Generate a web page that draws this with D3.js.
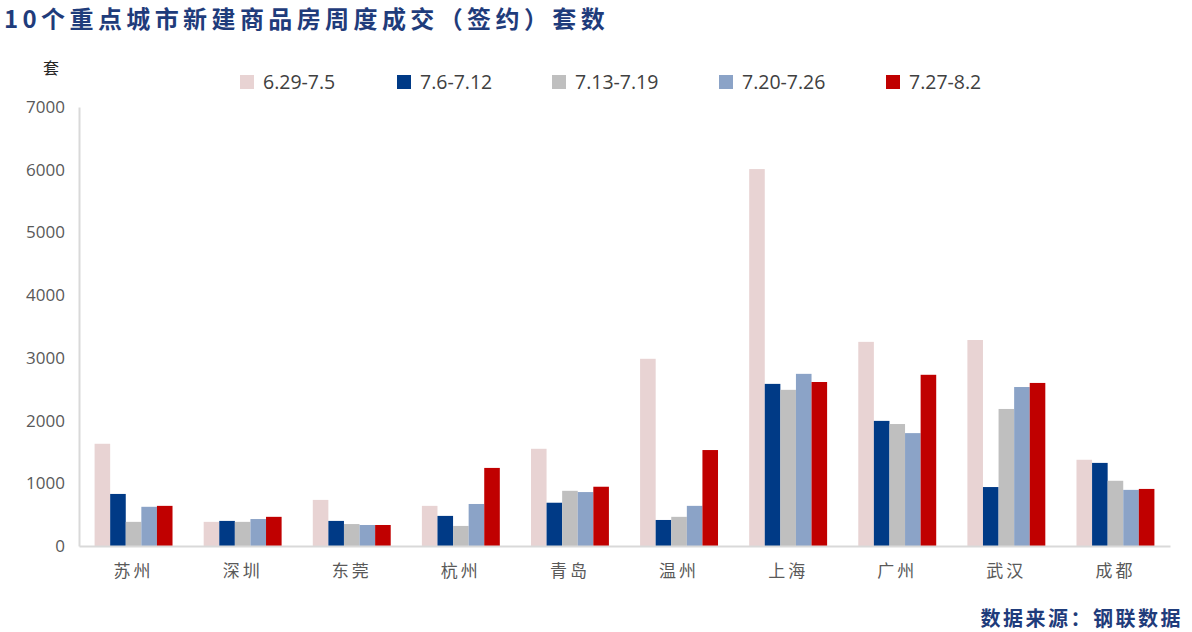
<!DOCTYPE html>
<html>
<head>
<meta charset="utf-8">
<script src="https://cdn.jsdelivr.net/npm/d3@7"></script>
<style>
  body { margin: 0; background: #fff; }
  svg { display: block; }
</style>
</head>
<body>
<svg id="chart"></svg>
<script>
// Weekly signed new-home sales (units) in 10 key cities
const cities = ['苏州', '深圳', '东莞', '杭州', '青岛', '温州', '上海', '广州', '武汉', '成都'];
const weeks = ['6.29-7.5', '7.6-7.12', '7.13-7.19', '7.20-7.26', '7.27-8.2'];
const week1 = [1630, 385, 735, 640, 1550, 2985, 6010, 3255, 3285, 1375];
const week2 = [830, 400, 400, 480, 690, 415, 2585, 1995, 940, 1325];
const week3 = [385, 385, 350, 320, 880, 465, 2490, 1945, 2185, 1040];
const week4 = [625, 430, 335, 670, 860, 640, 2745, 1800, 2535, 895];
const week5 = [640, 465, 335, 1245, 945, 1530, 2615, 2730, 2600, 910];
const yTicks = [0, 1000, 2000, 3000, 4000, 5000, 6000, 7000];

const colors = ['#E8D3D3', '#003A86', '#BFBFBF', '#8BA3C7', '#C00000'];
const seriesValues = [week1, week2, week3, week4, week5];

const width = 1192, height = 632;
const margin = { top: 107, right: 22, bottom: 86, left: 79 };

const svg = d3.select('#chart')
    .attr('width', width)
    .attr('height', height);

// Title
svg.append('text')
    .attr('x', 4)
    .attr('y', 28)
    .attr('fill', '#1F3C7B')
    .attr('font-family', '"Noto Sans CJK SC", sans-serif')
    .attr('font-weight', 700)
    .attr('font-size', '24px')
    .attr('letter-spacing', '4.4px')
    .text('10个重点城市新建商品房周度成交（签约）套数');

// Scales
const x0 = d3.scaleBand()
    .domain(cities)
    .range([margin.left, width - margin.right]);

const x1 = d3.scaleBand()
    .domain(weeks)
    .range([0, x0.bandwidth()])
    .paddingOuter(1);

const y = d3.scaleLinear()
    .domain([0, 7000])
    .range([height - margin.bottom, margin.top]);

// Y axis (labels only, light axis line)
const yAxis = svg.append('g')
    .attr('transform', `translate(${margin.left},0)`)
    .call(d3.axisLeft(y).tickValues(yTicks).tickSize(0).tickPadding(14).tickFormat(d3.format('d')));
yAxis.select('.domain').attr('stroke', '#D9D9D9').attr('stroke-width', 2);
yAxis.selectAll('text')
    .attr('fill', '#595959')
    .attr('font-family', '"Open Sans", sans-serif')
    .attr('font-size', '17px');

// Unit label
svg.append('text')
    .attr('x', 51)
    .attr('y', 74)
    .attr('text-anchor', 'middle')
    .attr('fill', '#262626')
    .attr('font-family', '"Noto Sans CJK SC", sans-serif')
    .attr('font-size', '16px')
    .text('套');

// Bars
const barGroups = svg.selectAll('.series')
    .data(weeks)
    .join('g')
    .attr('class', 'series')
    .attr('fill', (d, i) => colors[i]);

barGroups.selectAll('rect')
    .data((w, i) => cities.map((c, j) => ({ city: c, week: w, value: seriesValues[i][j] })))
    .join('rect')
    .attr('x', d => x0(d.city) + x1(d.week))
    .attr('y', d => y(d.value))
    .attr('width', x1.bandwidth())
    .attr('height', d => y(0) - y(d.value));

// X axis
const xAxis = svg.append('g')
    .attr('transform', `translate(0,${y(0)})`)
    .call(d3.axisBottom(x0).tickSize(0).tickPadding(19));
xAxis.select('.domain').attr('stroke', '#D9D9D9').attr('stroke-width', 2);
xAxis.selectAll('text')
    .attr('fill', '#595959')
    .attr('font-family', '"Noto Sans CJK SC", sans-serif')
    .attr('font-size', '17px')
    .attr('letter-spacing', '3px');

// Legend
const legendX = [240, 397, 552, 719, 886];
const legend = svg.append('g').attr('class', 'legend');
const legendItems = legend.selectAll('.legend-item')
    .data(weeks)
    .join('g')
    .attr('class', 'legend-item')
    .attr('transform', (d, i) => `translate(${legendX[i]}, 75)`);

legendItems.append('rect')
    .attr('width', 14)
    .attr('height', 14)
    .attr('fill', (d, i) => colors[i]);

legendItems.append('text')
    .attr('x', 23)
    .attr('y', 7)
    .attr('dy', '0.35em')
    .attr('fill', '#404040')
    .attr('font-family', '"Open Sans", sans-serif')
    .attr('font-size', '19.5px')
    .text(d => d);

// Source
svg.append('text')
    .attr('x', 1183)
    .attr('y', 626)
    .attr('text-anchor', 'end')
    .attr('fill', '#1F3C7B')
    .attr('font-family', '"Noto Sans CJK SC", sans-serif')
    .attr('font-weight', 700)
    .attr('font-size', '20px')
    .attr('letter-spacing', '2.5px')
    .text('数据来源：钢联数据');
</script>
</body>
</html>
